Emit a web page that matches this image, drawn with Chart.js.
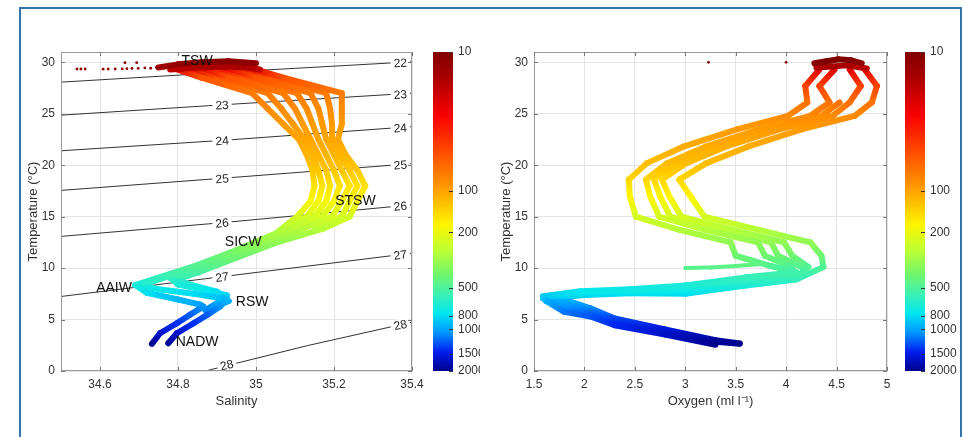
<!DOCTYPE html>
<html>
<head>
<meta charset="utf-8">
<script src="https://cdn.jsdelivr.net/npm/chart.js@4.4.1/dist/chart.umd.min.js"></script>
<style>
  html, body { margin: 0; padding: 0; background: #fff; }
  body { width: 964px; height: 437px; position: relative; overflow: hidden; }
  #frame { position: absolute; left: 19px; top: 7px; width: 943px; height: 500px; border: 2px solid #3574ad; box-sizing: border-box; }
  canvas { position: absolute; }
</style>
</head>
<body>
<div id="frame"></div>
<canvas id="tsChart" width="425" height="380" style="left:0;top:40px"></canvas>
<canvas id="tsBar" width="60" height="380" style="left:420px;top:40px"></canvas>
<canvas id="oxChart" width="425" height="380" style="left:470px;top:40px"></canvas>
<canvas id="oxBar" width="72" height="380" style="left:892px;top:40px"></canvas>
<script>
// ============================================
// DATA
// ============================================

const salTicks = [34.6, 34.8, 35, 35.2, 35.4];
const oxTicks = [1.5, 2, 2.5, 3, 3.5, 4, 4.5, 5];
const tempTicks = [0, 5, 10, 15, 20, 25, 30];
const depthTicks = [10, 100, 200, 500, 800, 1000, 1500, 2000];

// sigma-theta isopycnals, [salinity, temperature]
const sigmaLevels = [22, 23, 24, 25, 26, 27, 28];
const sigmaLines = [
    [[34.5, 28.07], [35.0, 29.2], [35.4, 30.05]],
    [[34.5, 24.86], [34.91, 25.86], [35.4, 27.0]],
    [[34.5, 21.4], [34.91, 22.4], [35.4, 23.75]],
    [[34.5, 17.55], [34.91, 18.72], [35.4, 20.15]],
    [[34.5, 13.08], [34.91, 14.4], [35.4, 16.15]],
    [[34.5, 7.24], [34.91, 9.15], [35.4, 11.45]],
    [[34.87, 0], [35.13, 2.45], [35.4, 4.75]]
];
// [level, salinity, temperature]
const sigmaLabels = [
    [22, 35.37, 29.97], [23, 35.37, 26.9], [24, 35.37, 23.65], [25, 35.37, 20.05],
    [26, 35.37, 16.05], [27, 35.37, 11.3], [28, 35.37, 4.5],
    [23, 34.913, 25.86], [24, 34.913, 22.4], [25, 34.913, 18.72],
    [26, 34.913, 14.4], [27, 34.913, 9.15], [28, 34.925, 0.6]
];
// [name, salinity, temperature]
const waterMasses = [
    ['TSW', 34.849, 30.09], ['STSW', 35.255, 16.55], ['SICW', 34.967, 12.49],
    ['AAIW', 34.636, 8.08], ['RSW', 34.99, 6.72], ['NADW', 34.849, 2.85]
];

// T-S strands: [salinity, temperature, depth m]
const tsSurfaceDots = [
    [34.541, 29.35, 12], [34.551, 29.35, 12], [34.562, 29.35, 12], [34.608, 29.33, 12],
    [34.621, 29.35, 12], [34.639, 29.35, 12], [34.657, 29.36, 12], [34.669, 29.38, 12],
    [34.682, 29.4, 12], [34.698, 29.4, 12], [34.715, 29.45, 12], [34.73, 29.42, 12],
    [34.745, 29.5, 12], [34.664, 29.96, 12], [34.694, 29.96, 12]
];
const tsTopBlob1 = [[34.75, 29.5, 14], [34.80, 29.8, 12], [34.86, 30.0, 11], [34.93, 30.1, 11], [35.00, 29.9, 12]];
const tsTopBlob2 = [[34.78, 29.3, 18], [34.85, 29.5, 16], [34.92, 29.6, 15], [34.98, 29.5, 16], [35.01, 29.3, 18]];
const tsStrand1 = [
    [34.79, 29.4, 24], [34.86, 28.5, 55], [34.99, 27.0, 75], [35.03, 25.5, 85],
    [35.07, 24.0, 95], [35.11, 22.5, 103], [35.13, 21.0, 113], [35.145, 19.5, 128], [35.15, 18.0, 155],
    [35.14, 16.5, 185], [35.105, 15.0, 230], [35.05, 13.35, 295], [34.95, 11.75, 380], [34.85, 10.3, 475],
    [34.78, 9.45, 545], [34.69, 8.35, 680], [34.72, 7.6, 790], [34.80, 6.95, 920], [34.857, 6.45, 1010],
    [34.865, 6.26, 1050], [34.83, 5.45, 1230], [34.797, 4.64, 1390], [34.754, 3.67, 1630], [34.733, 2.63, 2000]
];
const tsStrand2 = [
    [34.86, 29.5, 24], [34.93, 28.5, 55], [35.07, 27.0, 75], [35.10, 25.5, 85],
    [35.12, 24.0, 95], [35.14, 22.5, 103], [35.16, 21.0, 113], [35.18, 19.5, 128], [35.19, 18.0, 155],
    [35.18, 16.5, 185], [35.15, 15.0, 230], [35.05, 13.05, 310], [34.95, 11.5, 395], [34.85, 10.05, 495],
    [34.78, 9.25, 565], [34.70, 8.3, 690], [34.76, 7.9, 740], [34.84, 7.5, 800], [34.925, 7.0, 920],
    [34.908, 6.26, 1050], [34.875, 5.45, 1230], [34.84, 4.64, 1390], [34.797, 3.67, 1630], [34.775, 2.7, 1950]
];
const tsStrand3 = [
    [34.92, 29.5, 24], [35.00, 28.5, 55], [35.14, 27.0, 75], [35.16, 25.5, 85],
    [35.17, 24.0, 95], [35.18, 22.5, 103], [35.20, 21.0, 113], [35.22, 19.5, 128], [35.24, 18.0, 155],
    [35.22, 16.5, 185], [35.195, 15.0, 230], [35.05, 12.75, 330], [34.95, 11.25, 405], [34.85, 9.8, 510],
    [34.78, 9.05, 590], [34.80, 8.4, 670], [34.88, 7.8, 760], [34.925, 7.35, 840], [34.90, 6.6, 980],
    [34.87, 5.9, 1120]
];
const tsStrand4 = [
    [34.99, 29.4, 24], [35.07, 28.5, 55], [35.22, 27.0, 75], [35.22, 25.5, 85],
    [35.22, 24.0, 95], [35.21, 22.5, 103], [35.23, 21.0, 113], [35.26, 19.5, 128], [35.28, 18.0, 155],
    [35.26, 16.5, 185], [35.24, 15.0, 230], [35.17, 13.8, 275], [35.05, 12.45, 345], [34.95, 11.0, 420],
    [34.85, 9.55, 530], [34.793, 8.86, 600], [34.85, 8.2, 690], [34.90, 7.7, 770], [34.93, 6.8, 950],
    [34.90, 6.3, 1040]
];
const tsStrand5 = [
    [34.83, 29.4, 24], [34.90, 28.5, 55], [35.03, 27.0, 75], [35.065, 25.5, 85],
    [35.095, 24.0, 95], [35.125, 22.5, 103], [35.145, 21.0, 113], [35.16, 19.5, 128], [35.17, 18.0, 155],
    [35.16, 16.5, 185], [35.13, 15.0, 230], [35.08, 14.0, 265]
];
const tsStrand6 = [
    [34.89, 29.5, 24], [34.965, 28.5, 55], [35.105, 27.0, 75], [35.13, 25.5, 85],
    [35.145, 24.0, 95], [35.16, 22.5, 103], [35.18, 21.0, 113], [35.20, 19.5, 128], [35.215, 18.0, 155],
    [35.20, 16.5, 185], [35.17, 15.0, 230], [35.10, 13.8, 275]
];
const tsStrand7 = [
    [34.955, 29.4, 24], [35.035, 28.5, 55], [35.18, 27.0, 75], [35.19, 25.5, 85],
    [35.195, 24.0, 95], [35.195, 22.5, 103], [35.215, 21.0, 113], [35.24, 19.5, 128], [35.26, 18.0, 155],
    [35.24, 16.5, 185], [35.22, 15.0, 230], [35.15, 14.0, 265]
];

// oxygen strands: [oxygen ml/l, temperature, depth m]
const oxSpots = [[3.23, 30.0, 10], [4.0, 30.0, 10]];
const oxTopBlob1 = [[4.28, 29.9, 11], [4.40, 30.1, 10], [4.52, 30.3, 10], [4.64, 30.2, 10], [4.75, 29.9, 12]];
const oxTopBlob2 = [[4.30, 29.5, 16], [4.45, 29.6, 15], [4.60, 29.7, 15], [4.80, 29.4, 18]];
const oxStreak = [[3.00, 10.0, 470], [3.25, 10.05, 465], [3.50, 10.2, 455], [3.75, 10.4, 440]];
const oxStrand1 = [
    [4.33, 29.3, 24], [4.19, 27.7, 48], [4.21, 26.1, 70], [4.02, 24.8, 85],
    [3.52, 23.5, 96], [2.98, 21.8, 108], [2.62, 20.2, 120], [2.44, 18.6, 142], [2.45, 17.0, 175],
    [2.51, 15.0, 230], [2.95, 13.7, 280], [3.45, 12.5, 340], [3.50, 11.2, 410], [3.85, 10.2, 485],
    [4.10, 9.6, 535], [3.60, 9.1, 580], [3.00, 8.3, 680], [2.45, 7.95, 725], [1.96, 7.75, 760],
    [1.59, 7.26, 860], [1.62, 6.8, 950], [1.80, 5.75, 1160], [2.06, 5.3, 1260], [2.30, 4.45, 1430],
    [2.80, 3.55, 1660], [3.30, 2.55, 2000]
];
const oxStrand2 = [
    [4.48, 29.3, 24], [4.33, 27.7, 48], [4.43, 26.1, 70], [4.24, 24.8, 85],
    [3.74, 23.5, 96], [3.20, 21.8, 108], [2.82, 20.2, 120], [2.61, 18.6, 142], [2.65, 17.0, 175],
    [2.74, 15.0, 230], [3.21, 13.7, 280], [3.72, 12.5, 340], [3.79, 11.2, 410], [4.05, 10.1, 490],
    [4.10, 9.35, 555], [3.60, 8.83, 610], [3.00, 8.03, 715], [2.45, 7.82, 750], [1.96, 7.62, 780],
    [1.59, 7.15, 890], [1.68, 6.6, 985], [1.80, 6.15, 1070], [2.06, 5.5, 1220], [2.30, 4.6, 1400],
    [2.80, 3.7, 1620], [3.30, 2.7, 1950]
];
const oxStrand3 = [
    [4.63, 29.3, 24], [4.74, 27.7, 48], [4.63, 26.1, 70], [4.46, 24.8, 85],
    [3.94, 23.5, 96], [3.40, 21.8, 108], [3.01, 20.2, 120], [2.77, 18.6, 142], [2.84, 17.0, 175],
    [2.96, 15.0, 230], [3.47, 13.7, 280], [3.98, 12.5, 340], [4.06, 11.2, 410], [4.22, 10.1, 490],
    [4.10, 9.1, 580], [3.60, 8.57, 650], [3.00, 7.77, 760], [2.45, 7.68, 775], [1.96, 7.48, 805],
    [1.59, 7.05, 910], [1.80, 6.55, 995], [2.06, 5.8, 1150], [2.30, 4.85, 1350], [2.80, 3.85, 1580],
    [3.30, 2.85, 1900], [3.54, 2.65, 2000]
];
const oxStrand4 = [
    [4.78, 29.3, 24], [4.90, 27.7, 48], [4.85, 26.1, 70], [4.68, 24.8, 85],
    [4.16, 23.5, 96], [3.62, 21.8, 108], [3.21, 20.2, 120], [2.94, 18.6, 142], [3.05, 17.0, 175],
    [3.19, 15.0, 230], [3.73, 13.7, 280], [4.24, 12.5, 340], [4.35, 11.2, 410], [4.37, 10.1, 490],
    [4.10, 8.9, 600], [3.60, 8.3, 680], [3.00, 7.5, 800], [2.45, 7.55, 795], [1.96, 7.35, 830],
    [1.62, 6.95, 930], [1.80, 6.95, 930], [2.06, 6.1, 1080], [2.30, 5.1, 1300], [2.80, 4.05, 1540],
    [3.30, 3.0, 1850], [3.54, 2.68, 2000]
];
const oxStrand5 = [
    [4.53, 26.1, 70], [4.35, 24.8, 85], [3.84, 23.5, 96], [3.30, 21.8, 108], [2.92, 20.2, 120],
    [2.69, 18.6, 142], [2.75, 17.0, 175], [2.85, 15.0, 230], [3.34, 13.7, 280], [3.85, 12.5, 340],
    [3.92, 11.2, 410], [4.15, 10.1, 490]
];

// colour map stops, fraction down the colour bar
const jetStops = [
    [0.00, [128, 0, 0]], [0.08, [170, 0, 0]], [0.20, [250, 0, 0]], [0.32, [255, 80, 0]],
    [0.42, [255, 150, 0]], [0.54, [255, 245, 0]], [0.62, [190, 255, 50]], [0.70, [110, 245, 110]],
    [0.77, [50, 240, 190]], [0.82, [0, 230, 240]], [0.88, [0, 150, 255]], [0.94, [0, 30, 240]],
    [1.00, [0, 0, 140]]
];

// ============================================
// HELPERS
// ============================================

Chart.defaults.font.family = '"Liberation Sans", Arial, Helvetica, sans-serif';
Chart.defaults.font.size = 12;
Chart.defaults.color = '#333';

function depthColor(d) {
    let f = (Math.log10(d) - 1) / (Math.log10(2000) - 1);
    f = Math.min(1, Math.max(0, f));
    for (let i = 1; i < jetStops.length; i++) {
        const [f1, c1] = jetStops[i];
        if (f <= f1) {
            const [f0, c0] = jetStops[i - 1];
            const t = (f - f0) / (f1 - f0);
            return 'rgb(' + c0.map((v, k) => Math.round(v + (c1[k] - v) * t)).join(',') + ')';
        }
    }
    return 'rgb(0,0,140)';
}

function strandDataset(ctx2d, pts, width) {
    return {
        data: pts.map(p => ({ x: p[0], y: p[1] })),
        showLine: true,
        pointRadius: 0,
        borderWidth: width,
        borderColor: depthColor(pts[0][2]),
        borderCapStyle: 'round',
        borderJoinStyle: 'round',
        tension: 0,
        order: 1,
        segment: {
            borderColor: sc => {
                const g = ctx2d.createLinearGradient(sc.p0.x, sc.p0.y, sc.p1.x, sc.p1.y);
                g.addColorStop(0, depthColor(pts[sc.p0DataIndex][2]));
                g.addColorStop(1, depthColor(pts[sc.p1DataIndex][2]));
                return g;
            }
        }
    };
}

function dotsDataset(pts) {
    return {
        data: pts.map(p => ({ x: p[0], y: p[1] })),
        showLine: false,
        pointRadius: 1.4,
        pointBorderWidth: 0,
        pointBackgroundColor: pts.map(p => depthColor(p[2])),
        order: 0
    };
}

function contourDataset(line) {
    return {
        data: line.map(p => ({ x: p[0], y: p[1] })),
        showLine: true,
        pointRadius: 0,
        borderColor: '#333',
        borderWidth: 1,
        tension: 0,
        order: 2
    };
}

const boxPlugin = {
    id: 'axisBox',
    afterDatasetsDraw(chart) {
        const { ctx, chartArea: a, scales: { x, y } } = chart;
        ctx.save();
        ctx.strokeStyle = '#9a9a9a';
        ctx.lineWidth = 1;
        ctx.strokeRect(a.left + 0.5, a.top + 0.5, a.right - a.left - 1, a.bottom - a.top - 1);
        ctx.strokeStyle = '#777';
        ctx.beginPath();
        x.ticks.forEach(t => {
            const px = Math.round(x.getPixelForValue(t.value)) + 0.5;
            ctx.moveTo(px, a.bottom); ctx.lineTo(px, a.bottom - 4);
            ctx.moveTo(px, a.top); ctx.lineTo(px, a.top + 4);
        });
        y.ticks.forEach(t => {
            const py = Math.round(y.getPixelForValue(t.value)) + 0.5;
            ctx.moveTo(a.left, py); ctx.lineTo(a.left + 4, py);
            ctx.moveTo(a.right, py); ctx.lineTo(a.right - 4, py);
        });
        ctx.stroke();
        ctx.restore();
    }
};

const tsTextPlugin = {
    id: 'tsText',
    afterDatasetsDraw(chart) {
        const { ctx, scales: { x, y } } = chart;
        ctx.save();
        ctx.textAlign = 'center';
        ctx.textBaseline = 'middle';
        // isopycnal labels, broken out of the line
        ctx.font = '12px "Liberation Sans", Arial, sans-serif';
        sigmaLabels.forEach(([lev, s, t]) => {
            const line = sigmaLines[sigmaLevels.indexOf(lev)];
            let i = 0;
            while (i < line.length - 2 && s > line[i + 1][0]) i++;
            const ang = Math.atan2(
                y.getPixelForValue(line[i + 1][1]) - y.getPixelForValue(line[i][1]),
                x.getPixelForValue(line[i + 1][0]) - x.getPixelForValue(line[i][0]));
            const txt = String(lev);
            const w = ctx.measureText(txt).width;
            ctx.save();
            ctx.translate(x.getPixelForValue(s), y.getPixelForValue(t));
            ctx.rotate(ang);
            ctx.fillStyle = '#fff';
            ctx.fillRect(-w / 2 - 3, -6, w + 6, 12);
            ctx.fillStyle = '#222';
            ctx.fillText(txt, 0, 1);
            ctx.restore();
        });
        // water mass names
        ctx.font = '14px "Liberation Sans", Arial, sans-serif';
        ctx.fillStyle = '#111';
        waterMasses.forEach(([name, s, t]) => {
            ctx.fillText(name, x.getPixelForValue(s), y.getPixelForValue(t));
        });
        ctx.restore();
    }
};

const colorbarPlugin = {
    id: 'colorbar',
    beforeDatasetsDraw(chart) {
        const { ctx, chartArea: a, scales: { y } } = chart;
        const g = ctx.createLinearGradient(0, a.top, 0, a.bottom);
        jetStops.forEach(([f, c]) => g.addColorStop(f, 'rgb(' + c.join(',') + ')'));
        ctx.save();
        ctx.fillStyle = g;
        ctx.fillRect(a.left, a.top, a.right - a.left, a.bottom - a.top);
        ctx.strokeStyle = '#333';
        ctx.lineWidth = 1;
        ctx.beginPath();
        depthTicks.forEach(v => {
            const py = Math.round(y.getPixelForValue(v)) + 0.5;
            ctx.moveTo(a.right - 4, py); ctx.lineTo(a.right, py);
        });
        ctx.stroke();
        ctx.restore();
    }
};

function mainOptions(xMin, xMax, xTicks, xTitle, padLeft, padRight) {
    return {
        responsive: false,
        animation: false,
        events: [],
        layout: { padding: { left: padLeft, right: padRight, top: 12, bottom: 9 } },
        plugins: { legend: { display: false }, tooltip: { enabled: false } },
        scales: {
            x: {
                type: 'linear', min: xMin, max: xMax,
                afterBuildTicks: s => { s.ticks = xTicks.map(v => ({ value: v })); },
                afterFit: s => { s.height = 40; s.paddingLeft = 0; s.paddingRight = 0; },
                grid: { color: '#e4e4e4', drawTicks: false },
                border: { display: false },
                ticks: { padding: 6, autoSkip: false, maxRotation: 0, callback: v => String(v) },
                title: { display: true, text: xTitle, font: { size: 13 }, padding: { top: 0, bottom: 2 } }
            },
            y: {
                type: 'linear', min: 0, max: 31,
                afterBuildTicks: s => { s.ticks = tempTicks.map(v => ({ value: v })); },
                afterFit: s => { s.width = 37; s.paddingTop = 0; s.paddingBottom = 0; },
                grid: { color: '#e4e4e4', drawTicks: false },
                border: { display: false },
                ticks: { padding: 6, autoSkip: false, callback: v => String(v) },
                title: { display: true, text: 'Temperature (°C)', font: { size: 13 }, padding: { top: 2, bottom: 0 } }
            }
        }
    };
}

function colorbar(id, padLeft, axisWidth) {
    return new Chart(document.getElementById(id), {
        type: 'scatter',
        data: { datasets: [] },
        options: {
            responsive: false,
            animation: false,
            events: [],
            layout: { padding: { left: padLeft, right: 0, top: 12, bottom: 49 } },
            plugins: { legend: { display: false }, tooltip: { enabled: false } },
            scales: {
                x: { display: false, min: 0, max: 1 },
                y: {
                    type: 'logarithmic', position: 'right', reverse: true, min: 10, max: 2000,
                    afterBuildTicks: s => { s.ticks = depthTicks.map(v => ({ value: v })); },
                    afterFit: s => { s.width = axisWidth; s.paddingTop = 0; s.paddingBottom = 0; },
                    grid: { display: false, drawTicks: false },
                    border: { display: false },
                    ticks: { padding: 5, autoSkip: false, callback: v => String(v) }
                }
            }
        },
        plugins: [colorbarPlugin]
    });
}

// ============================================
// CHARTS
// ============================================

const tsCanvas = document.getElementById('tsChart');
const tsCtx = tsCanvas.getContext('2d');
new Chart(tsCanvas, {
    type: 'scatter',
    data: {
        datasets: [
            dotsDataset(tsSurfaceDots),
            ...[tsTopBlob1, tsTopBlob2, tsStrand1, tsStrand2, tsStrand3, tsStrand4, tsStrand5, tsStrand6, tsStrand7]
                .map(s => strandDataset(tsCtx, s, 6)),
            ...sigmaLines.map(contourDataset)
        ]
    },
    options: mainOptions(34.5, 35.4, salTicks, 'Salinity', 24, 13),
    plugins: [tsTextPlugin, boxPlugin]
});
colorbar('tsBar', 13, 27);

const oxCanvas = document.getElementById('oxChart');
const oxCtx = oxCanvas.getContext('2d');
new Chart(oxCanvas, {
    type: 'scatter',
    data: {
        datasets: [
            dotsDataset(oxSpots),
            strandDataset(oxCtx, oxStreak, 4),
            ...[oxTopBlob1, oxTopBlob2, oxStrand1, oxStrand2, oxStrand3, oxStrand4, oxStrand5]
                .map(s => strandDataset(oxCtx, s, 6))
        ]
    },
    options: mainOptions(1.5, 5, oxTicks, 'Oxygen (ml l⁻¹)', 27, 8),
    plugins: [boxPlugin]
});
colorbar('oxBar', 13, 39);
</script>
</body>
</html>
